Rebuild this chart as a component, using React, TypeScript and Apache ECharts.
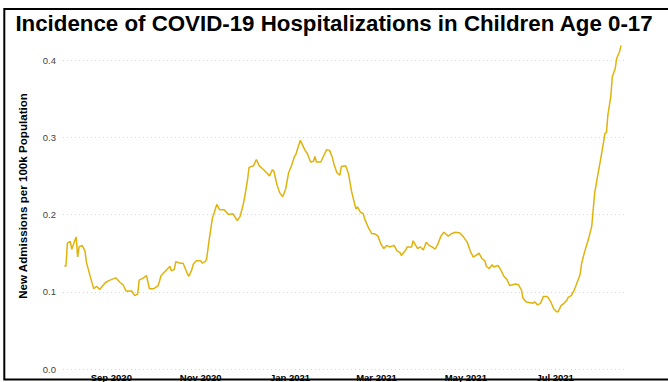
import React, { useEffect, useRef } from "react";
import * as echarts from "echarts";

const chartTitle = "Incidence of COVID-19 Hospitalizations in Children Age 0-17";
const yAxisTitle = "New Admissions per 100k Population";

// days counted from 2020-09-01
const dayOffsets = [
  -32, -31, -30, -28, -27, -25, -24, -23, -22, -20, -18, -17, -14, -12, -10, -8, -4, -1,
  3, 6, 8, 10, 14, 16, 18, 19, 22, 24, 26, 29, 32, 34, 37, 40, 41, 43, 44, 47, 49, 52, 53, 55,
  56, 58, 61, 62, 64, 65, 67, 69, 72, 74, 77, 80, 83, 86, 88, 90, 91, 93, 94, 97, 99, 101, 104,
  106, 108, 110, 111, 113, 115, 117, 119, 121, 123, 125, 126, 129, 130, 132, 134, 136, 138, 139,
  140, 143, 145, 147, 149, 151, 152, 154, 156, 157, 160, 162, 164, 167, 168, 170, 172, 173, 176,
  178, 180, 182, 184, 186, 188, 190, 193, 195, 197, 198, 201, 202, 205, 206, 209, 211, 213, 215,
  217, 219, 221, 223, 225, 227, 230, 232, 235, 238, 240, 243, 245, 247, 249, 251, 253, 255, 256,
  258, 260, 261, 264, 266, 268, 270, 272, 274, 276, 278, 280, 281, 283, 285, 288, 289, 291, 293,
  295, 297, 298, 300, 302, 304, 305, 307, 309, 311, 312, 314, 316, 318, 320, 321, 323, 326, 328,
  329, 330, 332, 334, 336, 337, 338, 339, 341, 342, 344, 345, 347, 348,
];

const admissions = [
  0.134, 0.133, 0.163, 0.165, 0.155, 0.166, 0.171, 0.145, 0.158, 0.16, 0.153, 0.138, 0.117, 0.104, 0.107, 0.103, 0.112, 0.115,
  0.118, 0.112, 0.109, 0.101, 0.101, 0.095, 0.097, 0.115, 0.118, 0.121, 0.104, 0.104, 0.108, 0.121, 0.127, 0.133, 0.127, 0.129, 0.139, 0.137, 0.137, 0.123, 0.12, 0.129,
  0.136, 0.14, 0.14, 0.137, 0.139, 0.142, 0.17, 0.195, 0.213, 0.206, 0.206, 0.2, 0.201, 0.192, 0.198, 0.213, 0.222, 0.245, 0.261, 0.263, 0.271, 0.263, 0.258,
  0.254, 0.25, 0.258, 0.256, 0.239, 0.228, 0.223, 0.233, 0.254, 0.263, 0.275, 0.278, 0.296, 0.292, 0.284, 0.278, 0.268, 0.269, 0.275,
  0.268, 0.268, 0.276, 0.284, 0.283, 0.273, 0.265, 0.254, 0.251, 0.262, 0.263, 0.252, 0.23, 0.207, 0.21, 0.203, 0.201, 0.194, 0.181,
  0.175, 0.175, 0.172, 0.162, 0.156, 0.16, 0.158, 0.16, 0.153, 0.151, 0.147, 0.154, 0.158, 0.158, 0.166, 0.156, 0.158, 0.154, 0.164,
  0.16, 0.158, 0.155, 0.162, 0.172, 0.177, 0.172, 0.175, 0.177, 0.176, 0.172, 0.164, 0.153, 0.145, 0.147, 0.15, 0.143, 0.14, 0.133,
  0.13, 0.135, 0.132, 0.134, 0.128, 0.12, 0.116, 0.108, 0.109, 0.11, 0.109, 0.102, 0.092, 0.087, 0.086, 0.085, 0.087, 0.083, 0.085,
  0.094, 0.094, 0.093, 0.087, 0.078, 0.074, 0.074, 0.082, 0.085, 0.089, 0.093, 0.095, 0.102, 0.112, 0.122, 0.136, 0.151, 0.17, 0.185,
  0.207, 0.228, 0.25, 0.271, 0.293, 0.305, 0.306, 0.329, 0.353, 0.378, 0.389, 0.402, 0.411, 0.419,
];

const tickDays = [0, 61, 122, 181, 242, 303];
const tickLabels = ["Sep 2020", "Nov 2020", "Jan 2021", "Mar 2021", "May 2021", "Jul 2021"];

const FONT = '"Liberation Sans", Arial, sans-serif';

export default function App() {
  const ref = useRef<HTMLDivElement>(null);

  useEffect(() => {
    if (!ref.current) return;
    const chart = echarts.init(ref.current, null, { renderer: "svg" });
    const data = dayOffsets.map((d, i) => [d, admissions[i]]);
    chart.setOption({
      animation: false,
      grid: { left: 63, width: 561, top: 60, height: 310.7, containLabel: false },
      xAxis: {
        type: "value",
        min: -33,
        max: 350,
        axisLine: { show: false },
        axisTick: { show: false },
        splitLine: { show: false },
        axisLabel: {
          customValues: tickDays,
          formatter: (v: number) => {
            const i = tickDays.indexOf(Math.round(v));
            return i >= 0 ? tickLabels[i] : "";
          },
          fontFamily: FONT,
          fontWeight: "bold",
          fontSize: 9.5,
          color: "#000",
          margin: 3,
        },
      },
      yAxis: {
        type: "value",
        min: 0,
        max: 0.4,
        interval: 0.1,
        axisLine: { show: false },
        axisTick: { show: false },
        axisLabel: {
          formatter: (v: number) => v.toFixed(1),
          fontFamily: FONT,
          fontSize: 9.5,
          color: "#444",
          margin: 7,
        },
        splitLine: { lineStyle: { type: [1, 3], color: "#d6d6d6", width: 1 } },
      },
      series: [
        {
          type: "line",
          data,
          showSymbol: false,
          clip: false,
          lineStyle: { color: "#E0B30C", width: 1.5 },
        },
      ],
      graphic: [
        {
          type: "text",
          x: 334,
          y: 23,
          style: {
            text: chartTitle,
            align: "center",
            verticalAlign: "middle",
            font: `bold 22.3px ${FONT}`,
            fill: "#000",
          },
        },
        {
          type: "text",
          x: 22,
          y: 196,
          rotation: Math.PI / 2,
          style: {
            text: yAxisTitle,
            align: "center",
            verticalAlign: "middle",
            font: `bold 11.6px ${FONT}`,
            fill: "#000",
          },
        },
        {
          type: "rect",
          z: 100,
          shape: { x: 4.3, y: 9, width: 700, height: 370.5 },
          style: { fill: "none", stroke: "#000", lineWidth: 2 },
        },
      ],
    });
    return () => chart.dispose();
  }, []);

  return (
    <div
      ref={ref}
      style={{ position: "fixed", left: 0, top: 0, width: 668, height: 382, background: "#fff" }}
    />
  );
}
